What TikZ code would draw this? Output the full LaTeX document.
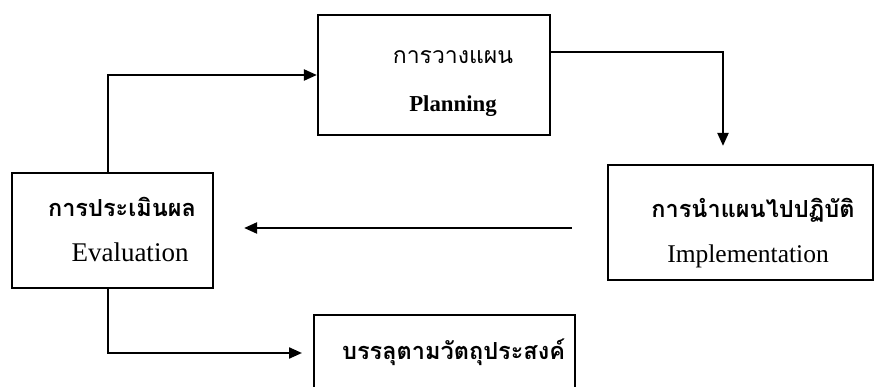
\documentclass[tikz,border=0pt]{standalone}
\usepackage{fontspec}
\setmainfont{Liberation Serif}
\newfontfamily\thaifont[Script=Thai]{Loma}
\usetikzlibrary{arrows.meta,calc}

\tikzset{
  box/.style={draw, line width=2.2pt, rectangle, inner sep=0pt},
  flow/.style={line width=2.2pt, -{Triangle[length=13pt,width=11pt]}},
  thai/.style={font=\thaifont\bfseries\fontsize{23.5}{27}\selectfont, inner sep=0pt},
  thailight/.style={font=\thaifont\fontsize{23}{27}\selectfont, inner sep=0pt},
  eng/.style={font=\fontsize{25.5}{29}\selectfont, inner sep=0pt},
}

\begin{document}
\begin{tikzpicture}[x=1pt, y=-1pt]
  \useasboundingbox (0,0) rectangle (875,387);
  \clip (0,0) rectangle (875,387);

  % stage boxes
  \node[box, minimum width=232pt, minimum height=120pt] (plan) at (434,75) {};
  \node[box, minimum width=265pt, minimum height=115pt] (impl) at (740.5,222.5) {};
  \node[box, minimum width=201pt, minimum height=115pt] (eval) at (112.5,230.5) {};
  % outcome box runs past the lower edge
  \node[box, minimum width=261pt, minimum height=100pt] (goal) at (312.5,364) [anchor=north west, yshift=50pt] {};

  % labels
  \node[thailight] (planth) at (453,57) {การวางแผน};
  \node[eng, font=\bfseries\fontsize{22.8}{26}\selectfont] (planen) at (453,106) {Planning};
  \node[thai] (implth) at (753,210) {การนำแผนไปปฏิบัติ};
  \node[eng] (implen) at (748,256) {Implementation};
  \node[thai] (evalth) at (122,207) {การประเมินผล};
  \node[eng, font=\fontsize{27}{30}\selectfont] (evalen) at (130,252) {Evaluation};
  \node[thai, anchor=west] (goalth) at (342,352) {บรรลุตามวัตถุประสงค์};

  % connectors
  \coordinate (evalup) at ($(eval.north)+(-4.5,0)$);
  \coordinate (evaldn) at ($(eval.south)+(-4.5,0)$);
  \coordinate (planout) at ($(plan.east)+(0,-23)$);
  \coordinate (implin) at ($(impl.north)+(-17.5,-18)$);
  \coordinate (goalin) at (302,353);

  \draw[flow] (evalup) |- (plan.west);
  \draw[flow] (planout) -| (implin);
  \draw[flow] ($(impl.west)+(-35,5.5)$) -- ($(eval.east)+(30,-2.5)$);
  \draw[flow] (evaldn) |- (goalin);
\end{tikzpicture}
\end{document}
